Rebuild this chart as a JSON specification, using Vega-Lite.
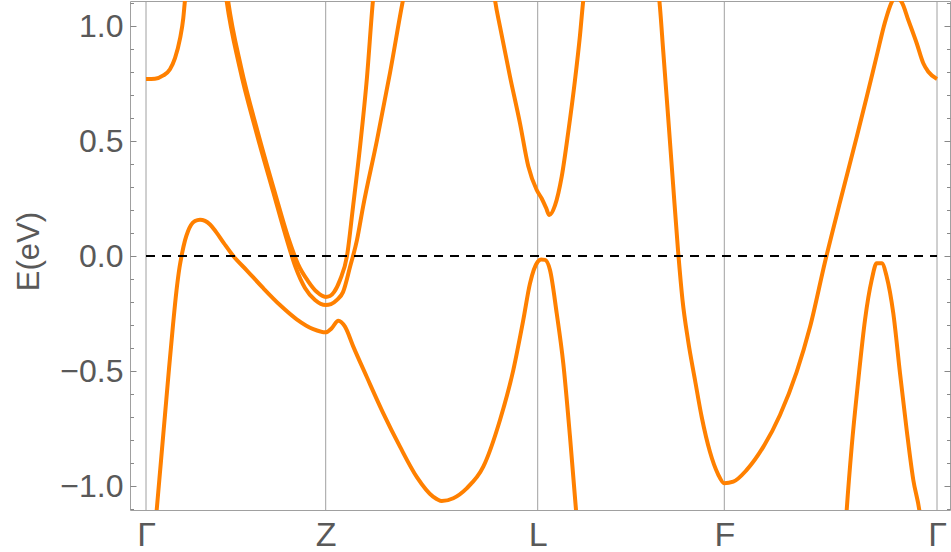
{
  "$schema": "https://vega.github.io/schema/vega-lite/v6.json",
  "width": 820,
  "height": 509,
  "autosize": {"type": "none"},
  "padding": {"left": 130, "top": 1, "right": 1, "bottom": 42},
  "background": "white",
  "config": {
    "view": {"stroke": "#a0a0a0", "strokeWidth": 1},
    "font": "Liberation Sans"
  },
  "datasets": {
    "bands": [
      {"b":"A","k":0,"E":0.770},{"b":"A","k":9,"E":0.771},{"b":"A","k":17.3,"E":0.785},{"b":"A","k":24,"E":0.812},{"b":"A","k":29,"E":0.860},{"b":"A","k":34,"E":0.945},{"b":"A","k":37.3,"E":1.035},{"b":"A","k":39,"E":1.113},{"b":"A","k":41,"E":1.19},

      {"b":"B","k":9,"E":-1.19},{"b":"B","k":10.7,"E":-1.104},{"b":"B","k":15,"E":-0.89},{"b":"B","k":19,"E":-0.69},{"b":"B","k":23,"E":-0.49},{"b":"B","k":27,"E":-0.30},{"b":"B","k":30.5,"E":-0.15},{"b":"B","k":33.5,"E":-0.05},{"b":"B","k":36,"E":0.01},{"b":"B","k":39,"E":0.068},{"b":"B","k":42,"E":0.108},{"b":"B","k":45,"E":0.135},{"b":"B","k":49,"E":0.152},{"b":"B","k":54,"E":0.158},{"b":"B","k":59,"E":0.153},{"b":"B","k":64,"E":0.137},{"b":"B","k":70,"E":0.105},{"b":"B","k":78,"E":0.055},{"b":"B","k":87.3,"E":0},{"b":"B","k":100.7,"E":-0.062},{"b":"B","k":117.3,"E":-0.140},{"b":"B","k":134,"E":-0.213},{"b":"B","k":150.7,"E":-0.275},{"b":"B","k":167.3,"E":-0.318},{"b":"B","k":179.7,"E":-0.332},{"b":"B","k":185.7,"E":-0.314},{"b":"B","k":192.3,"E":-0.281},{"b":"B","k":199,"E":-0.307},{"b":"B","k":207.3,"E":-0.394},{"b":"B","k":220.7,"E":-0.525},{"b":"B","k":237.3,"E":-0.684},{"b":"B","k":254,"E":-0.829},{"b":"B","k":270.7,"E":-0.960},{"b":"B","k":287.3,"E":-1.047},{"b":"B","k":295.7,"E":-1.065},{"b":"B","k":307.3,"E":-1.053},{"b":"B","k":320.7,"E":-1.010},{"b":"B","k":337.3,"E":-0.916},{"b":"B","k":354,"E":-0.713},{"b":"B","k":367.3,"E":-0.496},{"b":"B","k":377.3,"E":-0.278},{"b":"B","k":384,"E":-0.119},{"b":"B","k":391.7,"E":-0.025},{"b":"B","k":395,"E":-0.015},{"b":"B","k":399,"E":-0.017},{"b":"B","k":404,"E":-0.061},{"b":"B","k":410.7,"E":-0.249},{"b":"B","k":417.3,"E":-0.467},{"b":"B","k":424,"E":-0.786},{"b":"B","k":430,"E":-1.104},{"b":"B","k":431.3,"E":-1.178},

      {"b":"C1","k":80,"E":1.178},{"b":"C1","k":82,"E":1.113},{"b":"C1","k":95,"E":0.822},{"b":"C1","k":112,"E":0.535},{"b":"C1","k":129,"E":0.274},{"b":"C1","k":142,"E":0.083},{"b":"C1","k":152,"E":-0.035},{"b":"C1","k":162,"E":-0.109},{"b":"C1","k":171,"E":-0.157},{"b":"C1","k":179.7,"E":-0.178},{"b":"C1","k":184,"E":-0.174},{"b":"C1","k":188,"E":-0.157},{"b":"C1","k":194,"E":-0.104},{"b":"C1","k":201,"E":0},{"b":"C1","k":207,"E":0.213},{"b":"C1","k":214,"E":0.474},{"b":"C1","k":221,"E":0.778},{"b":"C1","k":227,"E":1.113},{"b":"C1","k":229,"E":1.2},

      {"b":"C2","k":78.5,"E":1.178},{"b":"C2","k":80.5,"E":1.113},{"b":"C2","k":93.5,"E":0.822},{"b":"C2","k":110.5,"E":0.535},{"b":"C2","k":127.5,"E":0.274},{"b":"C2","k":140,"E":0.083},{"b":"C2","k":149.5,"E":-0.048},{"b":"C2","k":159,"E":-0.139},{"b":"C2","k":169,"E":-0.191},{"b":"C2","k":179.7,"E":-0.213},{"b":"C2","k":185,"E":-0.209},{"b":"C2","k":191,"E":-0.191},{"b":"C2","k":197,"E":-0.157},{"b":"C2","k":204,"E":-0.048},{"b":"C2","k":211,"E":0.070},{"b":"C2","k":217,"E":0.213},{"b":"C2","k":231,"E":0.504},{"b":"C2","k":244,"E":0.796},{"b":"C2","k":257,"E":1.113},{"b":"C2","k":261,"E":1.2},

      {"b":"D","k":347,"E":1.178},{"b":"D","k":349,"E":1.113},{"b":"D","k":354,"E":0.997},{"b":"D","k":364,"E":0.780},{"b":"D","k":374,"E":0.577},{"b":"D","k":382.3,"E":0.390},{"b":"D","k":390.7,"E":0.287},{"b":"D","k":395.7,"E":0.250},{"b":"D","k":400,"E":0.210},{"b":"D","k":403.3,"E":0.178},{"b":"D","k":409,"E":0.220},{"b":"D","k":415.7,"E":0.345},{"b":"D","k":422.3,"E":0.540},{"b":"D","k":429,"E":0.765},{"b":"D","k":434,"E":0.960},{"b":"D","k":437.3,"E":1.113},{"b":"D","k":438.5,"E":1.157},

      {"b":"E","k":511.5,"E":1.178},{"b":"E","k":513.3,"E":1.113},{"b":"E","k":517.3,"E":0.887},{"b":"E","k":522,"E":0.613},{"b":"E","k":527,"E":0.317},{"b":"E","k":532,"E":0.026},{"b":"E","k":536.5,"E":-0.191},{"b":"E","k":542,"E":-0.365},{"b":"E","k":549,"E":-0.539},{"b":"E","k":555.7,"E":-0.700},{"b":"E","k":564,"E":-0.852},{"b":"E","k":572,"E":-0.948},{"b":"E","k":578.3,"E":-0.988},{"b":"E","k":587.3,"E":-0.981},{"b":"E","k":600.7,"E":-0.930},{"b":"E","k":617.3,"E":-0.830},{"b":"E","k":634,"E":-0.691},{"b":"E","k":650.7,"E":-0.504},{"b":"E","k":664,"E":-0.309},{"b":"E","k":679,"E":-0.026},{"b":"E","k":694,"E":0.235},{"b":"E","k":710.7,"E":0.517},{"b":"E","k":720.7,"E":0.691},{"b":"E","k":730.7,"E":0.870},{"b":"E","k":739,"E":1.017},{"b":"E","k":745.7,"E":1.104},{"b":"E","k":749,"E":1.126},{"b":"E","k":755.7,"E":1.104},{"b":"E","k":762.3,"E":1.026},{"b":"E","k":770.7,"E":0.925},{"b":"E","k":777.3,"E":0.838},{"b":"E","k":782.3,"E":0.801},{"b":"E","k":791,"E":0.770},

      {"b":"F","k":700,"E":-1.148},{"b":"F","k":700.7,"E":-1.104},{"b":"F","k":705.7,"E":-0.829},{"b":"F","k":712.3,"E":-0.539},{"b":"F","k":719,"E":-0.278},{"b":"F","k":725.7,"E":-0.104},{"b":"F","k":730.7,"E":-0.032},{"b":"F","k":735.7,"E":-0.032},{"b":"F","k":740.7,"E":-0.090},{"b":"F","k":747.3,"E":-0.249},{"b":"F","k":754,"E":-0.510},{"b":"F","k":760.7,"E":-0.757},{"b":"F","k":767.3,"E":-0.974},{"b":"F","k":773.3,"E":-1.104},{"b":"F","k":774.7,"E":-1.148}
    ],
    "kpoints": [
      {"k":0,"label":"Γ"},{"k":179.7,"label":"Z"},{"k":391.7,"label":"L"},{"k":578.3,"label":"F"},{"k":791,"label":"Γ"}
    ]
  },
  "data": {"name": "bands"},
  "resolve": {"axis": {"y": "independent"}},
  "layer": [
    {
      "data": {"name": "kpoints"},
      "mark": {"type": "rule", "color": "#a0a0a0", "strokeWidth": 1},
      "encoding": {
        "x": {
          "field": "k", "type": "quantitative",
          "scale": {"domain": [-16, 804], "nice": false, "zero": false},
          "axis": {
            "title": null,
            "values": [0, 179.7, 391.7, 578.3, 791],
            "labelExpr": "datum.value < 1 ? 'Γ' : datum.value < 200 ? 'Z' : datum.value < 400 ? 'L' : datum.value < 600 ? 'F' : 'Γ'",
            "labelFontSize": 34,
            "labelColor": "#595959",
            "labelFont": "Liberation Sans",
            "labelPadding": 8,
            "ticks": false,
            "domain": false,
            "grid": false,
            "labelFlush": false,
            "labelOverlap": false
          }
        }
      }
    },
    {
      "mark": {"type": "line", "color": "#ff8000", "strokeWidth": 4, "interpolate": "monotone", "clip": true},
      "encoding": {
        "x": {"field": "k", "type": "quantitative"},
        "y": {
          "field": "E", "type": "quantitative",
          "scale": {"domain": [-1.1043, 1.1087], "nice": false, "zero": false},
          "axis": {
            "orient": "left",
            "title": "E(eV)",
            "titleFontSize": 31,
            "titleFontWeight": "normal",
            "titleColor": "#595959",
            "titleFont": "Liberation Sans",
            "titleX": -92,
            "titleY": 250,
            "titleAngle": -90,
            "titleAlign": "center",
            "titleBaseline": "alphabetic",
            "values": [-1, -0.5, 0, 0.5, 1],
            "format": ".1f",
            "labelFontSize": 32,
            "labelColor": "#595959",
            "labelFont": "Liberation Sans",
            "tickSize": -6,
            "tickColor": "#888888",
            "labelPadding": 13,
            "domain": false,
            "grid": false
          }
        },
        "detail": {"field": "b", "type": "nominal"}
      }
    },
    {
      "mark": {"type": "rule", "color": "black", "strokeWidth": 2, "strokeDash": [9, 7]},
      "encoding": {
        "x": {"datum": 0, "type": "quantitative"},
        "x2": {"datum": 791},
        "y": {
          "datum": 0, "type": "quantitative",
          "axis": {
            "orient": "left",
            "title": null,
            "values": [-1.1, -0.9, -0.8, -0.7, -0.6, -0.4, -0.3, -0.2, -0.1, 0.1, 0.2, 0.3, 0.4, 0.6, 0.7, 0.8, 0.9, 1.1],
            "labels": false,
            "tickSize": -3.5,
            "tickColor": "#888888",
            "domain": false,
            "grid": false
          }
        }
      }
    },
    {
      "mark": {"type": "point", "opacity": 0},
      "encoding": {
        "x": {"field": "k", "type": "quantitative"},
        "y": {
          "field": "E", "type": "quantitative",
          "axis": {
            "orient": "right",
            "title": null,
            "values": [-1, -0.5, 0, 0.5, 1],
            "labels": false,
            "tickSize": -6,
            "tickColor": "#888888",
            "domain": false,
            "grid": false
          }
        }
      }
    },
    {
      "mark": {"type": "point", "opacity": 0},
      "encoding": {
        "x": {"field": "k", "type": "quantitative"},
        "y": {
          "field": "E", "type": "quantitative",
          "axis": {
            "orient": "right",
            "title": null,
            "values": [-1.1, -0.9, -0.8, -0.7, -0.6, -0.4, -0.3, -0.2, -0.1, 0.1, 0.2, 0.3, 0.4, 0.6, 0.7, 0.8, 0.9, 1.1],
            "labels": false,
            "tickSize": -3.5,
            "tickColor": "#888888",
            "domain": false,
            "grid": false
          }
        }
      }
    }
  ]
}
